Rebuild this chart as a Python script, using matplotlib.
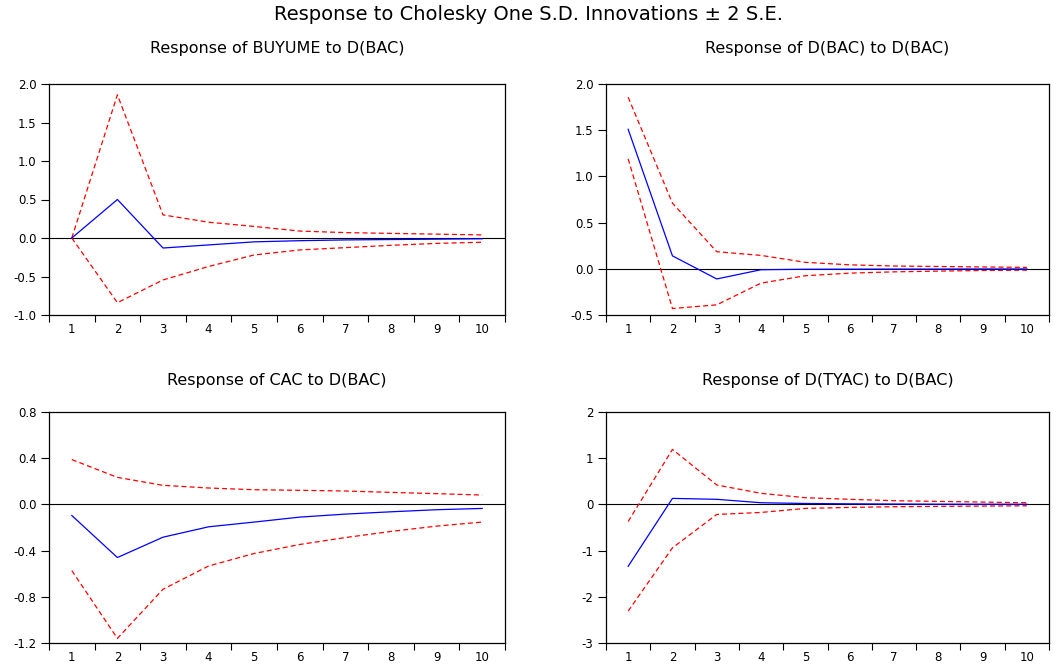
import matplotlib as mpl
mpl.use('Agg')
import matplotlib.pyplot as plt
from matplotlib.ticker import FixedLocator, NullFormatter, FixedFormatter

plt.rcParams['font.family'] = ['DejaVu Sans']

periods = list(range(1, 11))

# Response of BUYUME to D(BAC)
buyume_resp = [0.0, 0.50, -0.13, -0.09, -0.05, -0.035, -0.025, -0.02, -0.015, -0.01]
buyume_up = [0.0, 1.86, 0.30, 0.205, 0.15, 0.09, 0.07, 0.06, 0.05, 0.04]
buyume_lo = [0.0, -0.84, -0.545, -0.37, -0.22, -0.155, -0.125, -0.095, -0.07, -0.055]

# Response of D(BAC) to D(BAC)
bac_resp = [1.51, 0.14, -0.11, -0.01, -0.005, -0.004, -0.003, -0.003, -0.002, -0.002]
bac_up = [1.857, 0.71, 0.185, 0.145, 0.07, 0.043, 0.03, 0.025, 0.02, 0.015]
bac_lo = [1.19, -0.43, -0.39, -0.155, -0.075, -0.047, -0.033, -0.025, -0.018, -0.015]

# Response of CAC to D(BAC)
cac_resp = [-0.096, -0.46, -0.284, -0.194, -0.153, -0.11, -0.084, -0.064, -0.046, -0.035]
cac_up = [0.388, 0.234, 0.165, 0.142, 0.127, 0.122, 0.116, 0.104, 0.093, 0.081]
cac_lo = [-0.573, -1.16, -0.735, -0.533, -0.425, -0.347, -0.287, -0.234, -0.188, -0.153]

# Response of D(TYAC) to D(BAC)
tyac_resp = [-1.34, 0.13, 0.11, 0.036, 0.02, 0.012, 0.008, 0.005, 0.004, 0.003]
tyac_up = [-0.37, 1.19, 0.42, 0.24, 0.145, 0.11, 0.08, 0.065, 0.05, 0.036]
tyac_lo = [-2.31, -0.94, -0.217, -0.174, -0.087, -0.065, -0.05, -0.043, -0.036, -0.03]

panels = [
    ("Response of BUYUME to D(BAC)", buyume_resp, buyume_up, buyume_lo,
     (-1.0, 2.0), [-1.0, -0.5, 0.0, 0.5, 1.0, 1.5, 2.0], "%.1f"),
    ("Response of D(BAC) to D(BAC)", bac_resp, bac_up, bac_lo,
     (-0.5, 2.0), [-0.5, 0.0, 0.5, 1.0, 1.5, 2.0], "%.1f"),
    ("Response of CAC to D(BAC)", cac_resp, cac_up, cac_lo,
     (-1.2, 0.8), [-1.2, -0.8, -0.4, 0.0, 0.4, 0.8], "%.1f"),
    ("Response of D(TYAC) to D(BAC)", tyac_resp, tyac_up, tyac_lo,
     (-3, 2), [-3, -2, -1, 0, 1, 2], "%d"),
]

W, H = 1056, 665
fig = plt.figure(figsize=(W / 100, H / 100), dpi=100)

# axes boxes in pixels: left, top, right, bottom, title centre y
boxes = [
    (49, 84, 505, 315, 49),
    (606, 84, 1049, 315, 49),
    (49, 412, 505, 643, 381),
    (606, 412, 1049, 643, 381),
]

fig.text(0.5, 1 - 14 / H, "Response to Cholesky One S.D. Innovations \u00b1 2 S.E.",
         ha='center', va='center', fontsize=14)

for (title, resp, up, lo, ylim, yticks, fmt), (x0, y0, x1, y1, ty) in zip(panels, boxes):
    ax = fig.add_axes([x0 / W, 1 - y1 / H, (x1 - x0) / W, (y1 - y0) / H])
    ax.axhline(0, color='black', lw=0.8)
    ax.plot(periods, up, color='red', lw=0.9, ls=(0, (4, 2.5)))
    ax.plot(periods, lo, color='red', lw=0.9, ls=(0, (4, 2.5)))
    ax.plot(periods, resp, color='blue', lw=0.9)
    ax.set_xlim(0.5, 10.5)
    ax.set_ylim(*ylim)
    # EViews style: tick marks between periods, labels centred on them
    ax.xaxis.set_major_locator(FixedLocator([p + 0.5 for p in [0] + periods]))
    ax.xaxis.set_major_formatter(NullFormatter())
    ax.xaxis.set_minor_locator(FixedLocator(periods))
    ax.xaxis.set_minor_formatter(FixedFormatter([str(p) for p in periods]))
    ax.tick_params(axis='x', which='major', direction='out', length=5, width=0.8)
    ax.tick_params(axis='x', which='minor', length=0, labelsize=8.5, pad=6)
    ax.set_yticks(yticks)
    ax.set_yticklabels([fmt % t for t in yticks])
    ax.tick_params(axis='y', direction='out', length=6, width=0.8, labelsize=8.5, pad=3)
    for lab in ax.get_yticklabels():
        lab.set_verticalalignment('center_baseline')
    for s in ax.spines.values():
        s.set_linewidth(0.9)
    fig.text((x0 + x1) / 2 / W, 1 - ty / H, title, ha='center', va='center', fontsize=11.5)

plt.savefig('out.png', dpi=100)
